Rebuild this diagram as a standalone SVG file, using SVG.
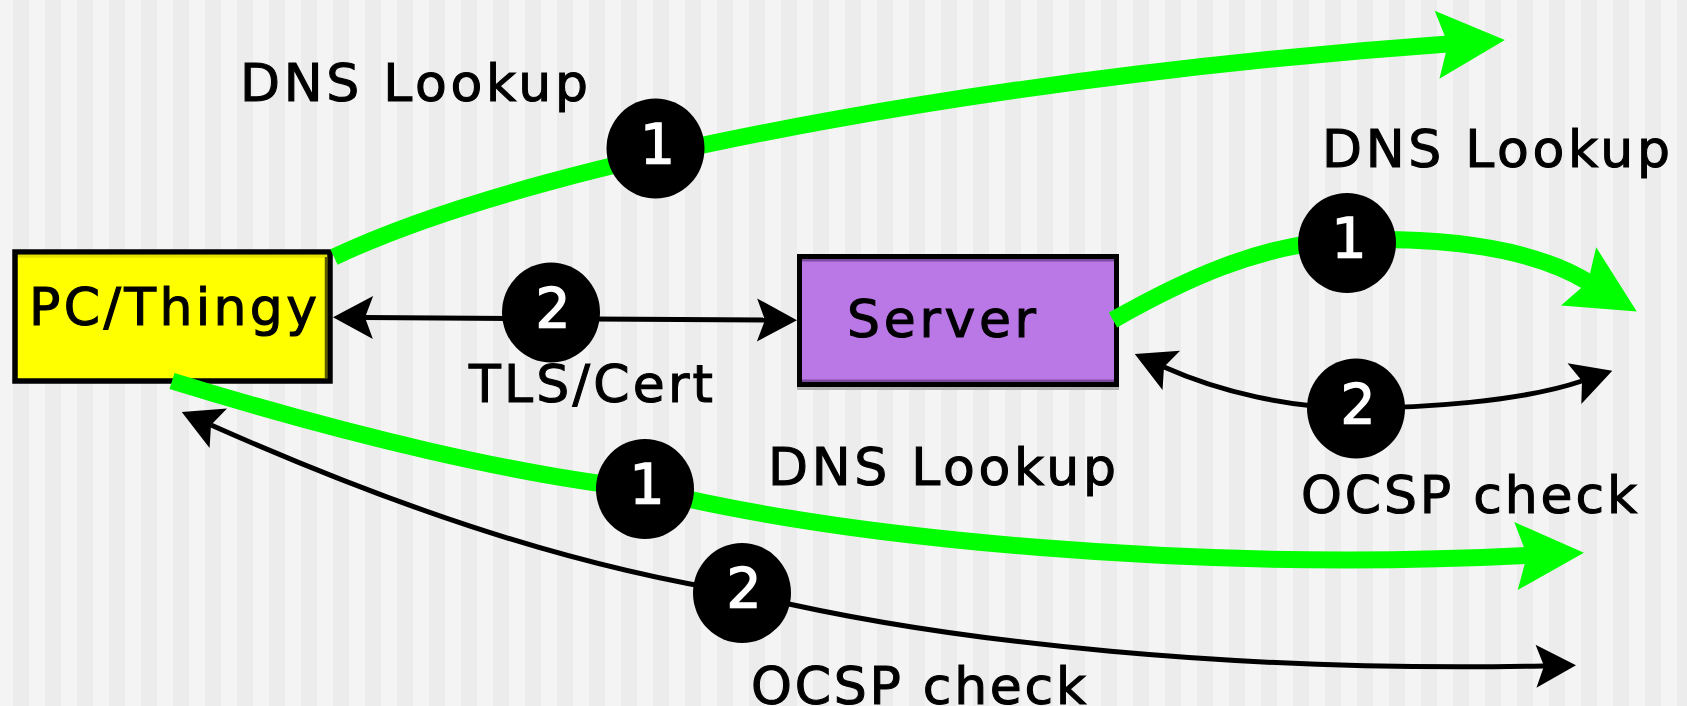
<svg xmlns="http://www.w3.org/2000/svg" width="1687" height="706" viewBox="0 0 1687 706">
<style>
  .lbl { font-family: "DejaVu Sans", "Liberation Sans", sans-serif; font-size: 52px; fill: #000; stroke: #000; stroke-width: 1.1px; }
  .num { font-family: "DejaVu Sans", "Liberation Sans", sans-serif; font-size: 55px; fill: #fff; stroke: #fff; stroke-width: 1.4px; text-anchor: middle; }
  .green { fill: none; stroke: #00ff00; stroke-width: 17; }
  .black { fill: none; stroke: #000; stroke-width: 5; }
  .badge { fill: #000; }
</style>
<defs>
  <pattern id="stripes" patternUnits="userSpaceOnUse" x="13" y="0" width="32" height="706">
    <rect x="0" y="0" width="16" height="706" fill="#ececec"/>
    <rect x="16" y="0" width="16" height="706" fill="#f4f4f4"/>
  </pattern>
  <marker id="ga" markerUnits="userSpaceOnUse" orient="auto" overflow="visible" markerWidth="1" markerHeight="1" refX="0" refY="0">
    <path d="M57,0 L-11,-34 L0,0 L-11,34 Z" fill="#00ff00"/>
  </marker>
  <marker id="ba" markerUnits="userSpaceOnUse" orient="auto-start-reverse" overflow="visible" markerWidth="1" markerHeight="1" refX="0" refY="0">
    <path d="M32,0 L-8,-21.5 L0,0 L-8,21.5 Z" fill="#000"/>
  </marker>
</defs>

<rect x="0" y="0" width="1687" height="706" fill="url(#stripes)"/>

<g id="pc-thingy">
  <rect x="15" y="252" width="315" height="129" fill="#ffff00" stroke="#000" stroke-width="5.5"/>
  <line x1="18" y1="256.3" x2="327" y2="256.3" stroke="#e6e000" stroke-width="3"/>
  <line x1="326" y1="257" x2="326" y2="378" stroke="#5a5a00" stroke-width="2.5"/>
  <text class="lbl" x="29" y="325" textLength="288" lengthAdjust="spacing">PC/Thingy</text>
</g>

<g id="server">
  <line x1="797" y1="388.5" x2="1119" y2="388.5" stroke="#b4b4b4" stroke-width="3"/>
  <rect x="799.5" y="256.5" width="317" height="128" fill="#ba77e6" stroke="#000" stroke-width="5"/>
  <line x1="802" y1="260.3" x2="1114" y2="260.3" stroke="#7c4a9e" stroke-width="2.5"/>
  <line x1="802" y1="380.8" x2="1114" y2="380.8" stroke="#7c4a9e" stroke-width="2.5"/>
  <text class="lbl" x="847" y="336.7" textLength="189" lengthAdjust="spacing">Server</text>
</g>

<g id="connectors">
  <path id="dns-pc" class="green" d="M334,257 C560,150 1050,72 1448,44" marker-end="url(#ga)"/>
  <path id="tls" class="black" d="M365,317.5 L765,320" marker-start="url(#ba)" marker-end="url(#ba)"/>
  <path id="dns-server" class="green" d="M1113,320 C1180,282 1260,243 1347,240 C1440,237 1530,247 1588,282" marker-end="url(#ga)"/>
  <path id="ocsp-server" class="black" d="M1164,367 C1220,392 1290,408 1356,408 C1420,408 1520,402 1582,381" marker-start="url(#ba)" marker-end="url(#ba)"/>
  <path id="dns-pc-2" class="green" d="M172,381 C350,436 520,476 645,489 C850,540 1200,572 1527,555.5" marker-end="url(#ga)"/>
  <path id="ocsp-pc" class="black" d="M211,425 C380,500 560,565 742,593 C950,645 1250,672 1544,666" marker-start="url(#ba)" marker-end="url(#ba)"/>
</g>

<g id="badge-dns-top">
  <ellipse class="badge" cx="655.5" cy="148.5" rx="49" ry="50"/>
  <text class="num" x="657.5" y="162.5">1</text>
</g>
<g id="badge-tls">
  <ellipse class="badge" cx="551" cy="312.5" rx="49" ry="50"/>
  <text class="num" x="553" y="326.5">2</text>
</g>
<g id="badge-dns-right">
  <ellipse class="badge" cx="1347" cy="243" rx="49" ry="50"/>
  <text class="num" x="1349" y="257">1</text>
</g>
<g id="badge-ocsp-right">
  <ellipse class="badge" cx="1356" cy="408.5" rx="49" ry="50"/>
  <text class="num" x="1358" y="422.5">2</text>
</g>
<g id="badge-dns-lower">
  <ellipse class="badge" cx="645" cy="489" rx="49" ry="50"/>
  <text class="num" x="647" y="503">1</text>
</g>
<g id="badge-ocsp-lower">
  <ellipse class="badge" cx="742" cy="593" rx="49" ry="50"/>
  <text class="num" x="744" y="607">2</text>
</g>

<g id="labels">
  <text class="lbl" x="240" y="101" textLength="348" lengthAdjust="spacing">DNS Lookup</text>
  <text class="lbl" x="1322" y="166.7" textLength="348" lengthAdjust="spacing">DNS Lookup</text>
  <text class="lbl" x="768" y="485" textLength="348" lengthAdjust="spacing">DNS Lookup</text>
  <text class="lbl" x="469" y="402" textLength="244" lengthAdjust="spacing">TLS/Cert</text>
  <text class="lbl" x="1301" y="512.7" textLength="336" lengthAdjust="spacing">OCSP check</text>
  <text class="lbl" x="751" y="704" textLength="335" lengthAdjust="spacing">OCSP check</text>
</g>
</svg>
